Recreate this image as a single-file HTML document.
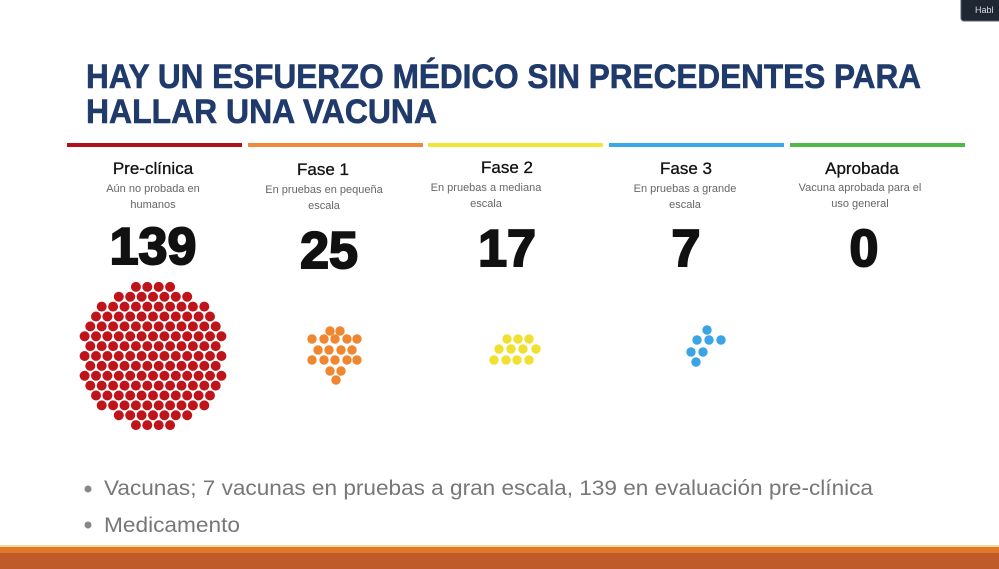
<!DOCTYPE html>
<html><head><meta charset="utf-8"><style>
html,body{margin:0;padding:0;background:#fff;width:999px;height:569px;overflow:hidden}
svg{display:block}
text{font-family:"Liberation Sans",sans-serif}
</style></head><body>
<svg id="s" width="999" height="569" viewBox="0 0 999 569" xmlns="http://www.w3.org/2000/svg">
<rect width="999" height="569" fill="#fff"/>
<rect x="961" y="-4" width="44" height="25" rx="3" fill="#1f2733" stroke="#5a6070"/>
<text x="975" y="13" font-size="9" fill="#dde">Habl</text>
<text x="86" y="88" font-size="34" font-weight="bold" fill="#1f3a6b" stroke="#1f3a6b" stroke-width="0.6" textLength="835" lengthAdjust="spacingAndGlyphs">HAY UN ESFUERZO MÉDICO SIN PRECEDENTES PARA</text>
<text x="86" y="123" font-size="34" font-weight="bold" fill="#1f3a6b" stroke="#1f3a6b" stroke-width="0.6" textLength="351" lengthAdjust="spacingAndGlyphs">HALLAR UNA VACUNA</text>
<rect x="67" y="143" width="175" height="4" fill="#b0101c"/>
<rect x="248" y="143" width="175" height="4" fill="#ef8a3a"/>
<rect x="428" y="143" width="175" height="4" fill="#f2e53a"/>
<rect x="609" y="143" width="175" height="4" fill="#3aa9e8"/>
<rect x="790" y="143" width="175" height="4" fill="#4fb848"/>
<g text-anchor="middle" fill="#111" font-size="17" stroke="#111" stroke-width="0.3">
<text x="153" y="174">Pre-clínica</text>
<text x="323" y="175">Fase 1</text>
<text x="507" y="173">Fase 2</text>
<text x="686" y="174">Fase 3</text>
<text x="862" y="174">Aprobada</text>
</g>
<g text-anchor="middle" fill="#666" font-size="11">
<text x="153" y="192">Aún no probada en</text><text x="153" y="208">humanos</text>
<text x="324" y="193">En pruebas en pequeña</text><text x="324" y="209">escala</text>
<text x="486" y="191">En pruebas a mediana</text><text x="486" y="207">escala</text>
<text x="685" y="192">En pruebas a grande</text><text x="685" y="208">escala</text>
<text x="860" y="191">Vacuna aprobada para el</text><text x="860" y="207">uso general</text>
</g>
<g text-anchor="middle" fill="#111" font-size="52" font-weight="bold" stroke="#111" stroke-width="2">
<text x="153" y="264">139</text>
<text x="329" y="268">25</text>
<text x="507" y="266">17</text>
<text x="686" y="266">7</text>
<text x="864" y="266">0</text>
</g>
<g id="dots"></g>
<circle cx="88" cy="489" r="3.5" fill="#888"/>
<circle cx="88" cy="525" r="3.5" fill="#888"/>
<text x="104" y="495" font-size="21" fill="#777" textLength="769" lengthAdjust="spacingAndGlyphs">Vacunas; 7 vacunas en pruebas a gran escala, 139 en evaluación pre-clínica</text>
<text x="104" y="532" font-size="21" fill="#777" textLength="136" lengthAdjust="spacingAndGlyphs">Medicamento</text>
<rect x="0" y="545" width="999" height="2" fill="#f5d9a0"/>
<rect x="0" y="547" width="999" height="6" fill="#e07a2a"/>
<rect x="0" y="553" width="999" height="16" fill="#bf5a2a"/>
</svg>
<script>
var g=document.getElementById('dots'),ns='http://www.w3.org/2000/svg';
function d(x,y,r,c){var e=document.createElementNS(ns,'circle');e.setAttribute('cx',x);e.setAttribute('cy',y);e.setAttribute('r',r);e.setAttribute('fill',c);g.appendChild(e);}
var s=11.4;
for(var j=-8;j<=8;j++){for(var i=-8;i<=8;i++){var x=153+i*s+(j%2?s/2:0),y=356+j*s*0.866;var dx=x-153,dy=y-356;if(dx*dx+dy*dy<=74*74)d(x,y,5,'#c0141b');}}
var o=[[330,331],[340,331],[312,339],[324,339],[335,339],[347,339],[357,339],[318,350],[329,350],[341,350],[352,350],[312,360],[324,360],[335,360],[347,360],[357,360],[330,371],[341,371],[336,380]];
o.forEach(function(p){d(p[0],p[1],4.7,'#ef8630')});
var y=[[507,339],[518,339],[529,339],[499,349],[511,349],[523,349],[536,349],[494,360],[506,360],[517,360],[529,360]];
y.forEach(function(p){d(p[0],p[1],4.7,'#f0e030')});
var b=[[707,330],[697,340],[709,340],[721,340],[691,352],[703,352],[696,362]];
b.forEach(function(p){d(p[0],p[1],4.7,'#3aa4e6')});
</script>
</body></html>
